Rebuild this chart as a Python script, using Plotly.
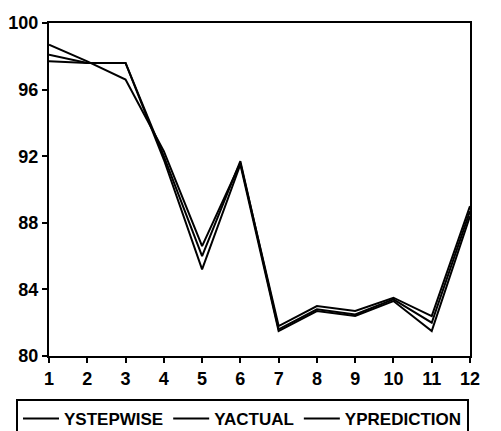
import plotly.graph_objects as go

periods = [1, 2, 3, 4, 5, 6, 7, 8, 9, 10, 11, 12]
ystepwise = [98.7, 97.7, 96.6, 92.3, 86.6, 91.6, 81.8, 83.0, 82.7, 83.5, 82.4, 89.0]
yactual = [98.1, 97.6, 97.6, 92.0, 86.0, 91.7, 81.6, 82.8, 82.5, 83.4, 82.0, 88.7]
yprediction = [97.7, 97.6, 97.6, 91.8, 85.2, 91.5, 81.5, 82.7, 82.4, 83.3, 81.5, 88.4]

series = [("YSTEPWISE", ystepwise), ("YACTUAL", yactual), ("YPREDICTION", yprediction)]

fig = go.Figure()
for name, vals in series:
    fig.add_trace(go.Scatter(x=periods, y=vals, mode="lines", name=name,
                             line=dict(color="black", width=2)))

# page has an 8px body margin, so the figure is shifted by (8, 8)
W, H = 493, 423
L, R, T, B = 41, 31, 15, 75
pw, ph = W - L - R, H - T - B

font = dict(family="Liberation Sans, Arial, sans-serif", size=18, color="black", weight="bold")
fig.update_layout(
    width=W, height=H,
    margin=dict(l=L, r=R, t=T, b=B, autoexpand=False),
    paper_bgcolor="white", plot_bgcolor="white",
    showlegend=True,
    legend=dict(orientation="h",
                x=(8 - L) / pw, xanchor="left", y=-(391 - (T + ph)) / ph, yanchor="top",
                bordercolor="black", borderwidth=2, bgcolor="white",
                font=dict(family="Liberation Sans, Arial, sans-serif", size=17,
                          color="black", weight="bold"),
                itemwidth=36, tracegroupgap=0),
)
fig.update_xaxes(range=[1, 12], tickmode="array", tickvals=periods,
                 ticktext=[str(p) for p in periods], automargin=False,
                 showgrid=False, zeroline=False, showline=True, linecolor="black",
                 linewidth=2, mirror=True, ticks="outside", ticklen=5, tickwidth=2,
                 tickcolor="black", tickfont=font)
fig.update_yaxes(range=[80, 100], dtick=4, tick0=80, automargin=False,
                 showgrid=False, zeroline=False, showline=True, linecolor="black",
                 linewidth=2, mirror=True, ticks="outside", ticklen=5, tickwidth=2,
                 tickcolor="black", tickfont=font)

fig.write_html("out.html")
